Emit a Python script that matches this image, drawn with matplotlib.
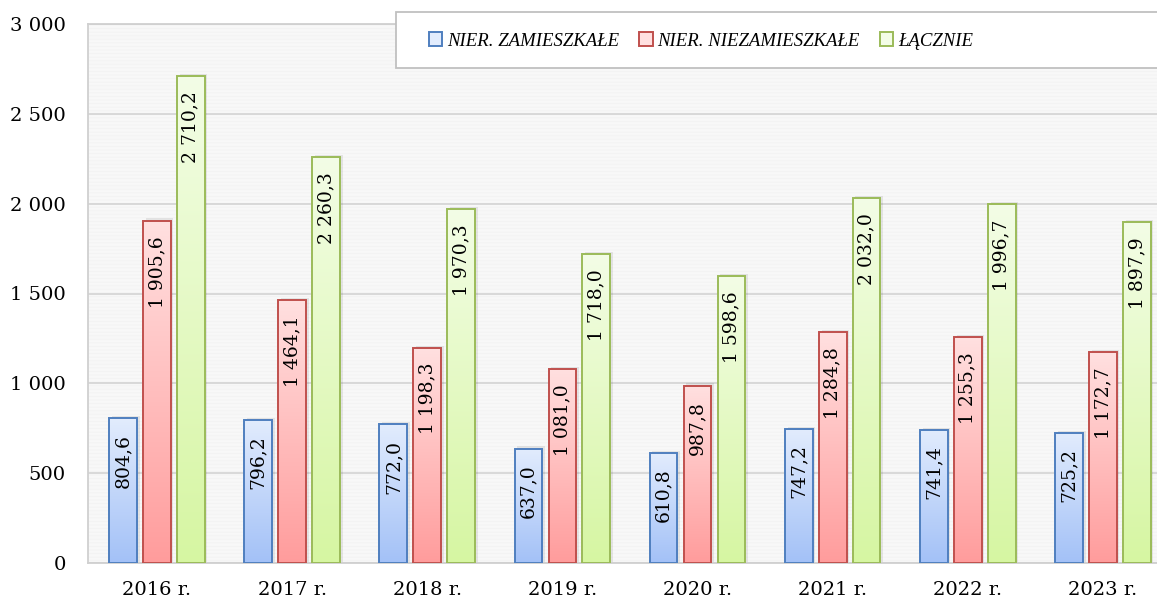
import numpy as np
import matplotlib.pyplot as plt
from matplotlib.patches import Rectangle
from matplotlib.colors import LinearSegmentedColormap

lata = ['2016 r.', '2017 r.', '2018 r.', '2019 r.', '2020 r.', '2021 r.', '2022 r.', '2023 r.']
zamieszkale = [804.6, 796.2, 772.0, 637.0, 610.8, 747.2, 741.4, 725.2]
niezamieszkale = [1905.6, 1464.1, 1198.3, 1081.0, 987.8, 1284.8, 1255.3, 1172.7]
lacznie = [2710.2, 2260.3, 1970.3, 1718.0, 1598.6, 2032.0, 1996.7, 1897.9]
nazwy = ['NIER. ZAMIESZKAŁE', 'NIER. NIEZAMIESZKAŁE', 'ŁĄCZNIE']

# (góra, dół, krawędź)
kolory = [('#e2ecfd', '#a3c1f7', '#4f7fbf'),
          ('#ffe0e0', '#ff9c9c', '#c0504d'),
          ('#f3fde6', '#d6f6a2', '#9bbb59')]

plt.rcParams['font.family'] = ['DejaVu Serif']

fig = plt.figure(figsize=(11.57, 6.03), dpi=100)
W, H = 1157, 603
ax = fig.add_axes([88 / W, (H - 563) / H, (1157 - 88) / W, (563 - 24) / H])

# tło w paski
ax.patch.set_facecolor('white')
plt.rcParams['hatch.linewidth'] = 0.7
ax.add_patch(Rectangle((0, 0), 1, 1, transform=ax.transAxes, facecolor='white',
                       edgecolor='#f3f3f3', hatch='-' * 12, lw=0, zorder=0))

x = np.arange(len(lata))
szer = 0.205
krok = 0.251
grad = np.linspace(1, 0, 256).reshape(-1, 1)

for i, (seria, (g, d, kr)) in enumerate(zip([zamieszkale, niezamieszkale, lacznie], kolory)):
    cmap = LinearSegmentedColormap.from_list('c%d' % i, [d, g])
    pos = x + (i - 1) * krok
    bars = ax.bar(pos, seria, width=szer, facecolor='none', edgecolor=kr, lw=1.4, zorder=3)
    for b, v in zip(bars, seria):
        x0 = b.get_x()
        ax.add_patch(Rectangle((x0 + 0.02, 0), szer, v + 12, facecolor='#000000', alpha=0.08,
                               lw=0, zorder=1.5))
        im = ax.imshow(grad, cmap=cmap, aspect='auto', extent=[x0, x0 + szer, 0, v],
                       zorder=2, vmin=0, vmax=1)
        im.set_clip_path(b)
        ax.annotate(f'{v:,.1f}'.replace(',', ' ').replace('.', ','),
                    (b.get_x() + szer / 2, v), xytext=(0, -11), textcoords='offset points',
                    rotation=90, ha='center', va='top', fontsize=13.5, zorder=4)

ax.set_xlim(-0.51, 7.40)
ax.set_ylim(0, 3000)
ax.set_yticks(np.arange(0, 3001, 500))
ax.set_yticklabels([f'{v:,}'.replace(',', ' ') for v in range(0, 3001, 500)])
ax.set_xticks(x)
ax.set_xticklabels(lata)
ax.tick_params(length=0, labelsize=14)
ax.tick_params(axis='x', pad=13)
ax.tick_params(axis='y', pad=16)
ax.grid(axis='y', color='#d6d6d6', lw=1.3, zorder=1)
ax.set_axisbelow(True)
for s in ax.spines.values():
    s.set_color('#d0d0d0')
    s.set_linewidth(1.3)
ax.spines['right'].set_visible(False)

# legenda
fig.patches.append(Rectangle((396 / W, (H - 68) / H), 0.8, 56 / H, transform=fig.transFigure,
                             facecolor='white', edgecolor='#c0c0c0', lw=1.3, zorder=5))
uchwyty = [Rectangle((0, 0), 1, 1, facecolor=g, edgecolor=kr, lw=1.4) for g, d, kr in kolory]
leg = fig.legend(uchwyty, nazwy, ncol=3, loc='center left',
                 bbox_to_anchor=(412 / W, (H - 41) / H), frameon=False,
                 handlelength=0.7, handleheight=0.7, handletextpad=0.25, columnspacing=1.1,
                 prop={'family': 'Liberation Serif', 'style': 'italic', 'size': 13.5})
leg.set_zorder(6)

fig.savefig('out.png', dpi=100)
